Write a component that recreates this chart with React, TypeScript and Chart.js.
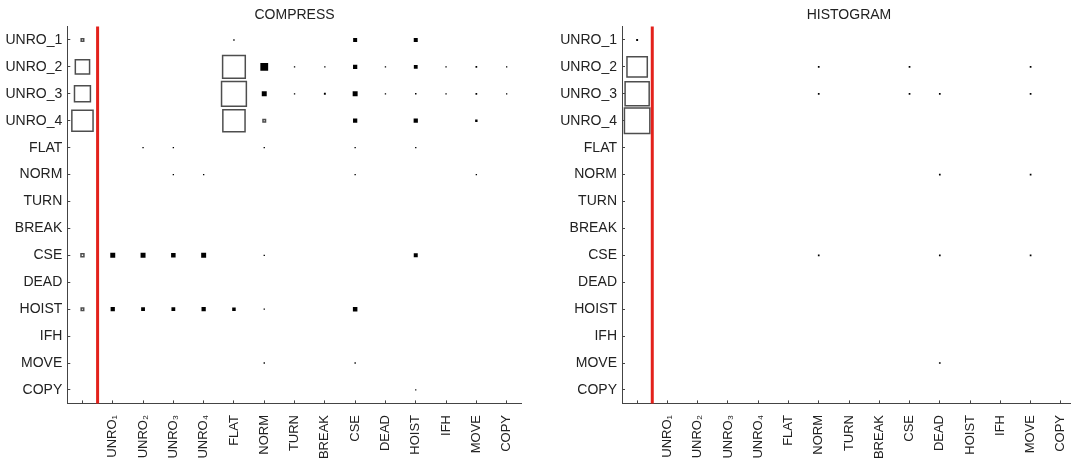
import React, { useEffect, useRef } from 'react';
import { Chart, registerables } from 'chart.js';

Chart.register(...registerables);

const FONT = "'Liberation Sans', Arial, Helvetica, sans-serif";

// Column categories (the first column is the unlabelled "start" state)
const COLUMN_LABELS = ['', 'UNRO₁', 'UNRO₂', 'UNRO₃', 'UNRO₄', 'FLAT', 'NORM', 'TURN', 'BREAK', 'CSE', 'DEAD', 'HOIST', 'IFH', 'MOVE', 'COPY'];
// Row categories, top to bottom
const ROW_LABELS = ['UNRO_1', 'UNRO_2', 'UNRO_3', 'UNRO_4', 'FLAT', 'NORM', 'TURN', 'BREAK', 'CSE', 'DEAD', 'HOIST', 'IFH', 'MOVE', 'COPY'];

// Column boundary marked by the red divider
const DIVIDER_AT = 0.5;

// Weights as [column, row, weight]; open = outlined squares, filled = solid squares
const compressOpen = [
  [0, 0, 0.009], [0, 1, 0.28], [0, 2, 0.35], [0, 3, 0.62],
  [5, 1, 0.71], [5, 2, 0.85], [5, 3, 0.68],
  [6, 3, 0.009],
  [0, 8, 0.012], [0, 10, 0.009],
];

const compressFilled = [
  [5, 0, 0.0025], [9, 0, 0.022], [11, 0, 0.022],
  [6, 1, 0.084], [7, 1, 0.0025], [8, 1, 0.0025], [9, 1, 0.025], [10, 1, 0.0025], [11, 1, 0.02], [12, 1, 0.0025], [13, 1, 0.004], [14, 1, 0.0025],
  [6, 2, 0.034], [7, 2, 0.0025], [8, 2, 0.005], [9, 2, 0.034], [10, 2, 0.0025], [11, 2, 0.003], [12, 2, 0.0025], [13, 2, 0.004], [14, 2, 0.0025],
  [9, 3, 0.025], [11, 3, 0.025], [13, 3, 0.008],
  [2, 4, 0.0025], [3, 4, 0.0025], [6, 4, 0.0025], [9, 4, 0.0025], [11, 4, 0.0025],
  [3, 5, 0.0025], [4, 5, 0.0025], [9, 5, 0.0025], [13, 5, 0.0025],
  [1, 8, 0.034], [2, 8, 0.034], [3, 8, 0.028], [4, 8, 0.034], [6, 8, 0.0025], [11, 8, 0.022],
  [1, 10, 0.025], [2, 10, 0.02], [3, 10, 0.02], [4, 10, 0.025], [5, 10, 0.017], [6, 10, 0.0025], [9, 10, 0.028],
  [6, 12, 0.0025], [9, 12, 0.0025],
  [11, 13, 0.002],
];

const histogramOpen = [
  [0, 1, 0.57], [0, 2, 0.8], [0, 3, 0.89],
];

const histogramFilled = [
  [0, 0, 0.005],
  [6, 1, 0.004], [9, 1, 0.004], [13, 1, 0.004],
  [6, 2, 0.004], [9, 2, 0.004], [10, 2, 0.004], [13, 2, 0.004],
  [10, 5, 0.004], [13, 5, 0.004],
  [6, 8, 0.004], [10, 8, 0.004], [13, 8, 0.004],
  [10, 12, 0.004],
];

const AXIS_COLOR = '#444';
const TEXT_COLOR = '#222';

// Square side grows with the square root of the weight; a weight of 1 fills a whole row.
function squareRadius(ctx: any) {
  const chart = ctx.chart;
  const area = chart.chartArea;
  if (!area || !ctx.raw) return 0;
  const cell = (area.bottom - area.top) / ROW_LABELS.length;
  const side = cell * Math.sqrt(ctx.raw.v);
  return side / Math.SQRT2;
}

type PanelProps = {
  title: string;
  open: number[][];
  filled: number[][];
  left: number;
  width: number;
  axisWidth: number;
  padRight: number;
};

function HintonPanel({ title, open, filled, left, width, axisWidth, padRight }: PanelProps) {
  const canvasRef = useRef<HTMLCanvasElement | null>(null);

  useEffect(() => {
    if (!canvasRef.current) return;
    const toPoints = (rows: number[][]) => rows.map(([x, y, v]) => ({ x, y, v }));
    const lastRow = ROW_LABELS.length - 0.5;

    const chart = new Chart(canvasRef.current, {
      type: 'scatter',
      data: {
        datasets: [
          {
            type: 'line',
            data: [{ x: DIVIDER_AT, y: -0.5 }, { x: DIVIDER_AT, y: lastRow }],
            borderColor: '#e3211b',
            borderWidth: 3,
            borderCapStyle: 'butt',
            pointRadius: 0,
            showLine: true,
            clip: false,
          } as any,
          {
            data: toPoints(open),
            pointStyle: 'rect',
            backgroundColor: '#ffffff',
            borderColor: '#4e4e4e',
            borderWidth: 1.5,
            pointRadius: squareRadius,
          } as any,
          {
            data: toPoints(filled),
            pointStyle: 'rect',
            backgroundColor: '#000000',
            borderWidth: 0,
            pointRadius: squareRadius,
          } as any,
        ],
      },
      options: {
        responsive: false,
        animation: false,
        devicePixelRatio: 1,
        events: [],
        layout: { padding: { left: 0, right: padRight, top: 0, bottom: 0 } },
        plugins: {
          legend: { display: false },
          tooltip: { enabled: false },
          title: {
            display: true,
            text: title,
            fullSize: false,
            color: TEXT_COLOR,
            font: { family: FONT, size: 14, weight: 'normal' },
            padding: { top: 7, bottom: 2.7 },
          },
        },
        scales: {
          x: {
            type: 'linear',
            min: -0.5,
            max: COLUMN_LABELS.length - 0.5,
            afterBuildTicks: (scale: any) => {
              scale.ticks = COLUMN_LABELS.map((_, i) => ({ value: i }));
            },
            afterFit: (scale: any) => {
              scale.height = 55.6;
            },
            grid: { drawOnChartArea: false, tickLength: -3, color: AXIS_COLOR, lineWidth: 1 },
            border: { display: true, color: AXIS_COLOR, width: 1 },
            ticks: {
              autoSkip: false,
              minRotation: 90,
              maxRotation: 90,
              padding: 14.6,
              color: TEXT_COLOR,
              font: { family: FONT, size: 13 },
              callback: (value: any) => COLUMN_LABELS[value as number] ?? '',
            },
          },
          y: {
            type: 'linear',
            reverse: true,
            min: -0.5,
            max: lastRow,
            afterBuildTicks: (scale: any) => {
              scale.ticks = ROW_LABELS.map((_, i) => ({ value: i }));
            },
            afterFit: (scale: any) => {
              scale.width = axisWidth;
            },
            grid: { drawOnChartArea: false, tickLength: -3, color: AXIS_COLOR, lineWidth: 1 },
            border: { display: true, color: AXIS_COLOR, width: 1 },
            ticks: {
              autoSkip: false,
              padding: 8,
              color: TEXT_COLOR,
              font: { family: FONT, size: 14 },
              callback: (value: any) => ROW_LABELS[value as number] ?? '',
            },
          },
        },
      } as any,
    });

    return () => chart.destroy();
  }, [title, open, filled, axisWidth, padRight]);

  return (
    <canvas
      ref={canvasRef}
      width={width}
      height={459}
      style={{ position: 'absolute', left, top: 0, width, height: 459 }}
    />
  );
}

export default function App() {
  return (
    <div
      style={{
        position: 'fixed',
        left: 0,
        top: 0,
        width: 1071,
        height: 459,
        overflow: 'hidden',
        background: '#ffffff',
      }}
    >
      <HintonPanel title="COMPRESS" open={compressOpen} filled={compressFilled} left={0} width={540} axisWidth={67.3} padRight={18.2} />
      <HintonPanel title="HISTOGRAM" open={histogramOpen} filled={histogramFilled} left={540} width={560} axisWidth={82} padRight={24} />
    </div>
  );
}
